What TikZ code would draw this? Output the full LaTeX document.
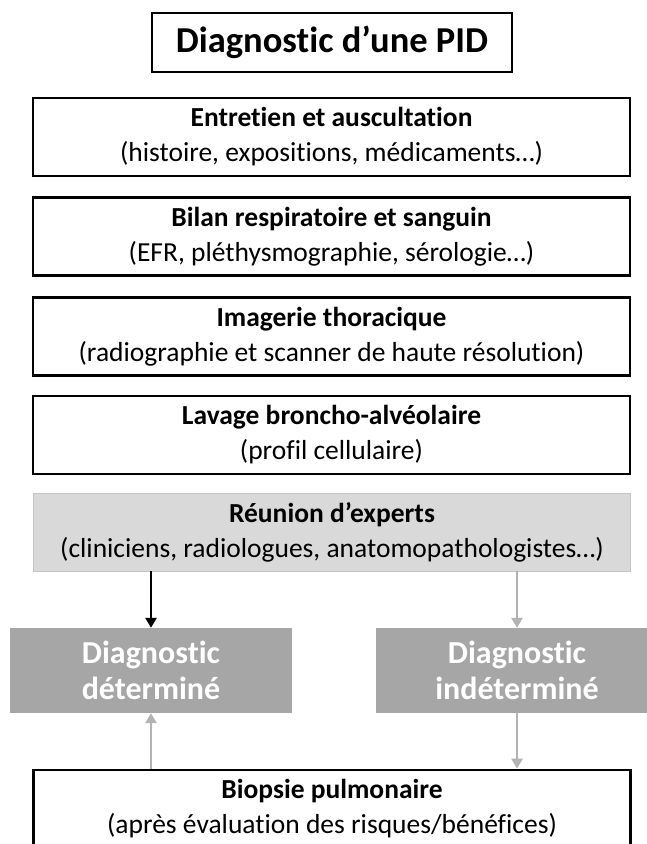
\documentclass[tikz,border=0pt]{standalone}
\usepackage{fontspec}
\setmainfont{Carlito}[Ligatures=CommonOff]
\usetikzlibrary{arrows.meta}
\definecolor{lightgr}{HTML}{D9D9D9}
\definecolor{lightedge}{HTML}{C4C4C4}
\definecolor{midgr}{HTML}{A6A6A6}
\definecolor{arrgr}{HTML}{B3B3B3}
\tikzset{
  stagebox/.style={draw=black, line width=2.8pt, fill=white, minimum width=597pt, minimum height=78pt,
    align=center, inner sep=0pt, font=\fontsize{27.5}{35}\selectfont},
  meetbox/.style={stagebox, draw=lightedge, line width=0.8pt, fill=lightgr},
  titlebox/.style={draw=black, line width=2.6pt, fill=white, minimum width=360pt, minimum height=59pt,
    inner sep=0pt, font=\fontsize{36.5}{40}\selectfont\bfseries},
  diagbox/.style={draw=none, fill=midgr, minimum width=282pt, minimum height=85pt, align=center,
    inner sep=0pt, text=white, font=\fontsize{32}{36}\selectfont\bfseries},
  blackarrow/.style={draw=black, line width=2.8pt, -{Triangle[width=11pt,length=10pt]}},
  grayarrow/.style={draw=arrgr, line width=2.6pt, -{Triangle[width=11pt,length=10pt]}}
}
\begin{document}
\begin{tikzpicture}[x=1pt,y=-1pt]
\useasboundingbox (0,0) rectangle (647,844);
\clip (0,0) rectangle (647,844);
\fill[white] (0,0) rectangle (647,844);
\node[titlebox] (title) at (332,42.5) {Diagnostic d’une PID};
\node[stagebox] (s1) at (331.5,137) {\textbf{Entretien et auscultation}\\(histoire, expositions, médicaments…)};
\node[stagebox] (s2) at (331.5,236.5) {\textbf{Bilan respiratoire et sanguin}\\(EFR, pléthysmographie, sérologie…)};
\node[stagebox] (s3) at (331.5,336.5) {\textbf{Imagerie thoracique}\\(radiographie et scanner de haute résolution)};
\node[stagebox] (s4) at (331.5,435) {\textbf{Lavage broncho-alvéolaire}\\(profil cellulaire)};
\node[meetbox] (meet) at (332,532) {\textbf{Réunion d’experts}\\(cliniciens, radiologues, anatomopathologistes…)};
\node[diagbox] (det) at (151,670.5) {Diagnostic\\déterminé};
\node[diagbox] (indet) at (517,670.5) {Diagnostic\\indéterminé};
\node[stagebox] (bio) at (332,809) {\textbf{Biopsie pulmonaire}\\(après évaluation des risques/bénéfices)};
\draw[blackarrow] (meet.south -| det.north) -- (det.north);
\draw[grayarrow] (meet.south -| indet.north) -- (indet.north);
\draw[grayarrow] (bio.north -| det.south) -- (det.south);
\draw[grayarrow] (indet.south) -- (bio.north -| indet.south);
\end{tikzpicture}
\end{document}
